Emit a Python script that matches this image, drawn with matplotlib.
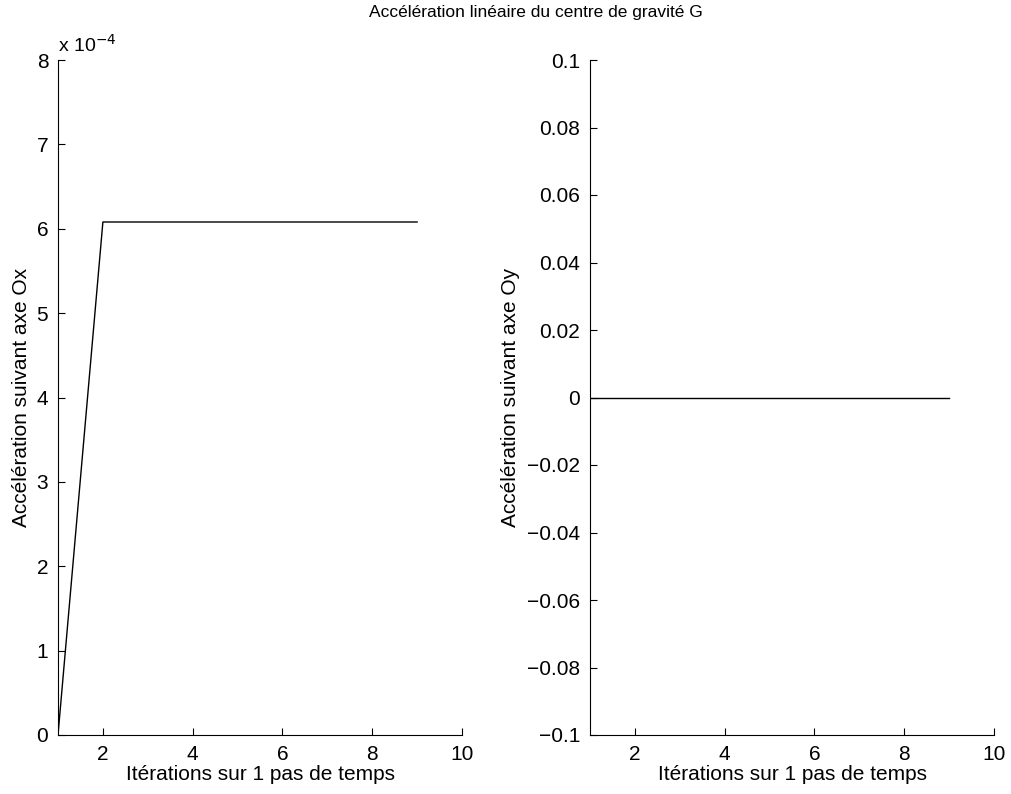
import numpy as np
import matplotlib.pyplot as plt
from matplotlib.ticker import FuncFormatter, MultipleLocator

plt.rcParams['font.family'] = ['Liberation Sans', 'DejaVu Sans']
plt.rcParams['font.size'] = 15
plt.rcParams['axes.unicode_minus'] = True

# Data
iterations = [1, 2, 3, 4, 5, 6, 7, 8, 9]
acc_x = [0, 6.08e-4, 6.08e-4, 6.08e-4, 6.08e-4, 6.08e-4, 6.08e-4, 6.08e-4, 6.08e-4]
acc_y = [0, 0, 0, 0, 0, 0, 0, 0, 0]


def fmt(v):
    s = '%g' % round(v, 6)
    return s.replace('-', '\u2212')


fig = plt.figure(figsize=(10.11, 7.94), dpi=100)
ax1 = fig.add_axes([58 / 1011, 59 / 794, 404 / 1011, 675 / 794])
ax2 = fig.add_axes([590 / 1011, 59 / 794, 404 / 1011, 675 / 794])

for ax in (ax1, ax2):
    ax.spines['top'].set_visible(False)
    ax.spines['right'].set_visible(False)
    ax.tick_params(direction='in', length=5, width=0.8, pad=7)
    ax.set_xlim(1, 10)
    ax.set_xticks([2, 4, 6, 8, 10])
    ax.set_xlabel('Itérations sur 1 pas de temps', labelpad=1)

# Left: Ox
ax1.plot(iterations, acc_x, color='black', lw=1)
ax1.set_ylim(0, 8e-4)
ax1.yaxis.set_major_locator(MultipleLocator(1e-4))
ax1.yaxis.set_major_formatter(FuncFormatter(lambda v, p: fmt(v / 1e-4)))
ax1.set_ylabel('Accélération suivant axe Ox', labelpad=4)
ax1.text(0, 1.006, 'x 10$^{\u2212 4}$', transform=ax1.transAxes, ha='left', va='bottom',
         fontsize=14)

# Right: Oy
ax2.plot(iterations, acc_y, color='black', lw=1)
ax2.set_ylim(-0.1, 0.1)
ax2.set_yticks(np.round(np.arange(-0.1, 0.1001, 0.02), 2))
ax2.yaxis.set_major_formatter(FuncFormatter(lambda v, p: fmt(v)))
ax2.set_ylabel('Accélération suivant axe Oy', labelpad=5)

fig.text(536 / 1011, 1 - 12 / 794, 'Accélération linéaire du centre de gravité G',
         ha='center', va='center', fontsize=12.5)

fig.savefig('out.png', dpi=100)
